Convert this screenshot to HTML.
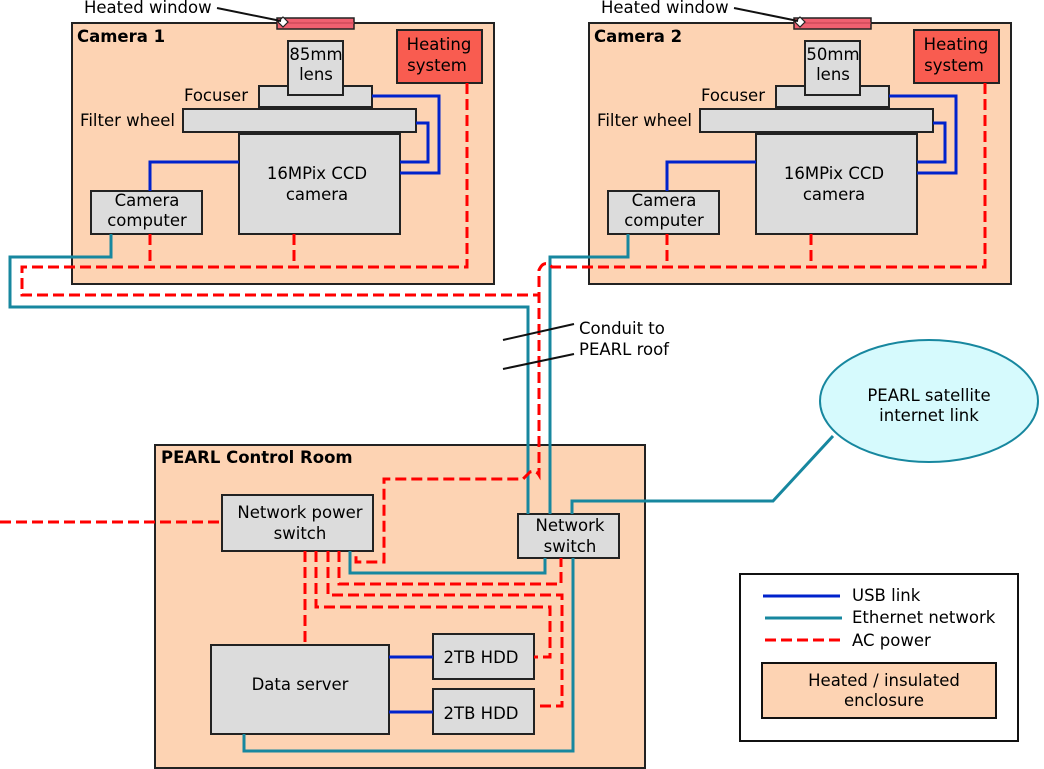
<!DOCTYPE html>
<html><head><meta charset="utf-8"><style>
html,body{margin:0;padding:0;background:#fff;}
svg{display:block;font-family:"DejaVu Sans","Liberation Sans",sans-serif;}
</style></head><body>
<svg width="1044" height="769" viewBox="0 0 1044 769" xmlns="http://www.w3.org/2000/svg" font-size="16.5">
<defs>
<g id="cam">
  <rect x="72" y="23" width="422" height="261" fill="#fdd3b3" stroke="#222" stroke-width="2"/>
  <rect x="277" y="18" width="77" height="11" fill="#f06070" stroke="#222" stroke-width="1.5"/>
  <line x1="277" y1="23" x2="354" y2="23" stroke="#c04050" stroke-width="1"/>
  <rect x="397" y="30" width="85" height="53" fill="#f95c50" stroke="#222" stroke-width="2"/>
  <text x="439" y="50" text-anchor="middle">Heating</text>
  <text x="437" y="71" text-anchor="middle">system</text>
  <rect x="259" y="86" width="113" height="21" fill="#dcdcdc" stroke="#222" stroke-width="2"/>
  <rect x="183" y="109" width="233" height="23" fill="#dcdcdc" stroke="#222" stroke-width="2"/>
  <rect x="239" y="134" width="161" height="100" fill="#dcdcdc" stroke="#222" stroke-width="2"/>
  <rect x="91" y="191" width="111" height="43" fill="#dcdcdc" stroke="#222" stroke-width="2"/>
  <text x="248" y="101" text-anchor="end">Focuser</text>
  <text x="175" y="126" text-anchor="end">Filter wheel</text>
  <text x="317" y="179" text-anchor="middle">16MPix CCD</text>
  <text x="317" y="200" text-anchor="middle">camera</text>
  <text x="147" y="206" text-anchor="middle">Camera</text>
  <text x="147" y="226" text-anchor="middle">computer</text>
  <g fill="none" stroke="#0022cc" stroke-width="3">
    <polyline points="372,96 439,96 439,173 400,173"/>
    <polyline points="416,123 428,123 428,162 400,162"/>
    <polyline points="150,191 150,162 239,162"/>
  </g>
  <polygon points="283,17 288,22 283,27 278,22" fill="#fff" stroke="#222" stroke-width="1.2"/>
  <line x1="217" y1="8" x2="281" y2="21" stroke="#111" stroke-width="2"/>
  <text x="84" y="13">Heated window</text>
</g>
</defs>

<use href="#cam"/>
<text x="77" y="42" font-weight="bold">Camera 1</text>
<rect x="288" y="41" width="55" height="54" fill="#dcdcdc" stroke="#222" stroke-width="2"/>
<text x="316" y="60" text-anchor="middle">85mm</text>
<text x="316" y="80" text-anchor="middle">lens</text>

<use href="#cam" x="517"/>
<text x="594" y="42" font-weight="bold">Camera 2</text>
<rect x="805" y="41" width="55" height="54" fill="#dcdcdc" stroke="#222" stroke-width="2"/>
<text x="833" y="60" text-anchor="middle">50mm</text>
<text x="833" y="80" text-anchor="middle">lens</text>

<!-- control room -->
<rect x="155" y="445" width="490" height="323" fill="#fdd3b3" stroke="#222" stroke-width="2"/>
<text x="161" y="463" font-weight="bold">PEARL Control Room</text>
<rect x="222" y="495" width="151" height="56" fill="#dcdcdc" stroke="#222" stroke-width="2"/>
<text x="300" y="518" text-anchor="middle">Network power</text>
<text x="300" y="539" text-anchor="middle">switch</text>
<rect x="518" y="514" width="101" height="44" fill="#dcdcdc" stroke="#222" stroke-width="2"/>
<text x="570" y="531" text-anchor="middle">Network</text>
<text x="570" y="552" text-anchor="middle">switch</text>
<rect x="211" y="645" width="178" height="89" fill="#dcdcdc" stroke="#222" stroke-width="2"/>
<text x="300" y="690" text-anchor="middle">Data server</text>
<rect x="433" y="634" width="101" height="45" fill="#dcdcdc" stroke="#222" stroke-width="2"/>
<text x="481" y="663" text-anchor="middle">2TB HDD</text>
<rect x="433" y="689" width="101" height="45" fill="#dcdcdc" stroke="#222" stroke-width="2"/>
<text x="481" y="719" text-anchor="middle">2TB HDD</text>

<g fill="none" stroke="#0022cc" stroke-width="3">
  <line x1="389" y1="657" x2="433" y2="657"/>
  <line x1="389" y1="712" x2="433" y2="712"/>
</g>

<!-- ethernet -->
<g fill="none" stroke="#17879f" stroke-width="3">
  <polyline points="111,234 111,257 10,257 10,307 528,307 528,514"/>
  <polyline points="628,234 628,257 550,257 550,514"/>
  <polyline points="572,514 572,501 773,501 833,436"/>
  <polyline points="350,551 350,573 545,573 545,558"/>
  <polyline points="573,558 573,751 244,751 244,734"/>
</g>

<!-- AC power -->
<g fill="none" stroke="#ff0000" stroke-width="3" stroke-dasharray="11,5">
  <polyline points="150,234 150,267"/>
  <polyline points="294,234 294,267"/>
  <polyline points="467,83 467,267 22,267 22,295 539,295"/>
  <polyline points="667,234 667,267"/>
  <polyline points="811,234 811,267"/>
  <path d="M985,83 L985,267 L552,267 Q544,259 539,270 L539,475 Q536,470 530,472 L523,479 L384,479 L384,562 L356,562 L356,551"/>
  <polyline points="0,522 222,522"/>
  <polyline points="305,551 305,645"/>
  <polyline points="316,551 316,607 550,607 550,657 534,657"/>
  <polyline points="328,551 328,595 562,595 562,706 537,706"/>
  <polyline points="339,551 339,584 561,584 561,558"/>
</g>

<!-- conduit -->
<line x1="503" y1="340" x2="574" y2="324" stroke="#111" stroke-width="2"/>
<line x1="503" y1="369" x2="574" y2="354" stroke="#111" stroke-width="2"/>
<text x="579" y="334">Conduit to</text>
<text x="579" y="355">PEARL roof</text>

<!-- satellite -->
<ellipse cx="929" cy="401" rx="109" ry="61" fill="#d6fafd" stroke="#17879f" stroke-width="2"/>
<text x="929" y="401" text-anchor="middle">PEARL satellite</text>
<text x="929" y="421" text-anchor="middle">internet link</text>

<!-- legend -->
<rect x="740" y="574" width="278" height="167" fill="#fff" stroke="#111" stroke-width="2"/>
<line x1="763" y1="596" x2="840" y2="596" stroke="#0022cc" stroke-width="3"/>
<line x1="765" y1="618" x2="842" y2="618" stroke="#17879f" stroke-width="3"/>
<line x1="765" y1="640" x2="842" y2="640" stroke="#ff0000" stroke-width="3" stroke-dasharray="11,5"/>
<text x="852" y="601">USB link</text>
<text x="852" y="623">Ethernet network</text>
<text x="852" y="646">AC power</text>
<rect x="762" y="663" width="234" height="55" fill="#fdd3b3" stroke="#111" stroke-width="2"/>
<text x="884" y="686" text-anchor="middle">Heated / insulated</text>
<text x="884" y="706" text-anchor="middle">enclosure</text>
</svg>
</body></html>
